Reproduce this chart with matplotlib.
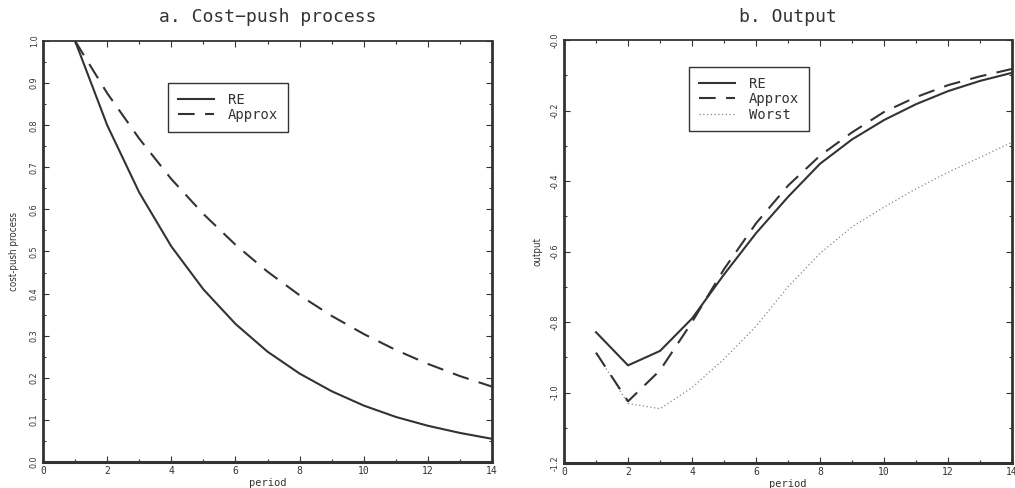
import matplotlib.pyplot as plt
from matplotlib.ticker import MultipleLocator

# data
period = [1, 2, 3, 4, 5, 6, 7, 8, 9, 10, 11, 12, 13, 14]

cost_re = [1.0, 0.80, 0.64, 0.512, 0.41, 0.328, 0.262, 0.21, 0.168, 0.134, 0.107, 0.086, 0.069, 0.055]
cost_approx = [1.0, 0.876, 0.768, 0.672, 0.589, 0.516, 0.452, 0.396, 0.347, 0.304, 0.266, 0.233, 0.204, 0.179]

out_re = [-0.829, -0.923, -0.882, -0.79, -0.665, -0.548, -0.445, -0.351, -0.282, -0.227, -0.182, -0.145, -0.116, -0.093]
out_approx = [-0.887, -1.025, -0.937, -0.80, -0.65, -0.52, -0.413, -0.328, -0.262, -0.204, -0.162, -0.128, -0.103, -0.082]
out_worst = [-0.887, -1.031, -1.046, -0.986, -0.905, -0.812, -0.70, -0.605, -0.53, -0.474, -0.422, -0.375, -0.333, -0.290]

cost_yticks = [0.0, 0.1, 0.2, 0.3, 0.4, 0.5, 0.6, 0.7, 0.8, 0.9, 1.0]
cost_ylabels = ["0.0", "0.1", "0.2", "0.3", "0.4", "0.5", "0.6", "0.7", "0.8", "0.9", "1.0"]
out_yticks = [-1.2, -1.0, -0.8, -0.6, -0.4, -0.2, 0.0]
out_ylabels = ["-1.2", "-1.0", "-0.8", "-0.6", "-0.4", "-0.2", "-0.0"]
xticks = [0, 2, 4, 6, 8, 10, 12, 14]

DARK = "#333333"
MONO = "DejaVu Sans Mono"


def style_axes(ax, yticks, ylabels, yminor):
    ax.set_xlim(0, 14)
    ax.set_xticks(xticks)
    ax.set_xticklabels([str(t) for t in xticks], family=MONO, fontsize=7, color=DARK)
    ax.xaxis.set_minor_locator(MultipleLocator(1))
    ax.set_yticks(yticks)
    ax.set_yticklabels(ylabels, rotation=90, va="center", fontsize=6.5,
                       fontstretch="condensed", color=DARK)
    ax.yaxis.set_minor_locator(MultipleLocator(yminor))
    ax.tick_params(which="both", direction="in", top=True, right=True,
                   color=DARK, width=0.8)
    ax.tick_params(which="major", length=4, pad=3)
    ax.tick_params(which="minor", length=2)
    for side, lw in [("left", 2.0), ("bottom", 2.2), ("right", 2.0), ("top", 1.3)]:
        ax.spines[side].set_linewidth(lw)
        ax.spines[side].set_color(DARK)
    ax.set_xlabel("period", family=MONO, fontsize=7.5, color=DARK, labelpad=1)


def add_legend(ax, handles, labels, anchor):
    leg = ax.legend(handles, labels, loc="upper left", bbox_to_anchor=anchor,
                    borderaxespad=0, handlelength=2.6, handletextpad=1.0,
                    prop={"family": MONO, "size": 10}, fancybox=False,
                    edgecolor=DARK, framealpha=1, borderpad=0.7, labelspacing=0.1)
    leg.get_frame().set_linewidth(1.0)
    for t in leg.get_texts():
        t.set_color(DARK)
    return leg


fig = plt.figure(figsize=(10.15, 4.88), dpi=100)
ax1 = fig.add_axes([0.0424, 0.0533, 0.4424, 0.8627])
ax2 = fig.add_axes([0.5557, 0.0512, 0.4414, 0.8668])

# a. cost-push process
ax1.plot(period, cost_re, color=DARK, lw=1.5, label="RE")
ax1.plot(period, cost_approx, color=DARK, lw=1.5, dashes=(8, 5), label="Approx")
ax1.set_ylim(0, 1.0)
style_axes(ax1, cost_yticks, cost_ylabels, 0.05)
ax1.set_ylabel("cost\u2010push process", fontsize=7, fontstretch="condensed",
               color=DARK, labelpad=8)
ax1.set_title("a. Cost\u2212push process", family=MONO, fontsize=13, color=DARK, pad=14)
h, l = ax1.get_legend_handles_labels()
add_legend(ax1, h, l, (0.278, 0.90))

# b. output
ax2.plot(period, out_worst, color="#888888", lw=0.9, ls=(0, (1, 2)), label="Worst")
ax2.plot(period, out_re, color=DARK, lw=1.5, label="RE")
ax2.plot(period, out_approx, color=DARK, lw=1.5, dashes=(8, 5), label="Approx")
ax2.set_ylim(-1.2, 0.0)
style_axes(ax2, out_yticks, out_ylabels, 0.1)
ax2.set_ylabel("output", fontsize=7, fontstretch="condensed", color=DARK, labelpad=6)
ax2.set_title("b. Output", family=MONO, fontsize=13, color=DARK, pad=13)
h, l = ax2.get_legend_handles_labels()
order = [1, 2, 0]
add_legend(ax2, [h[i] for i in order], [l[i] for i in order], (0.279, 0.936))

fig.savefig("out.png", dpi=100)
